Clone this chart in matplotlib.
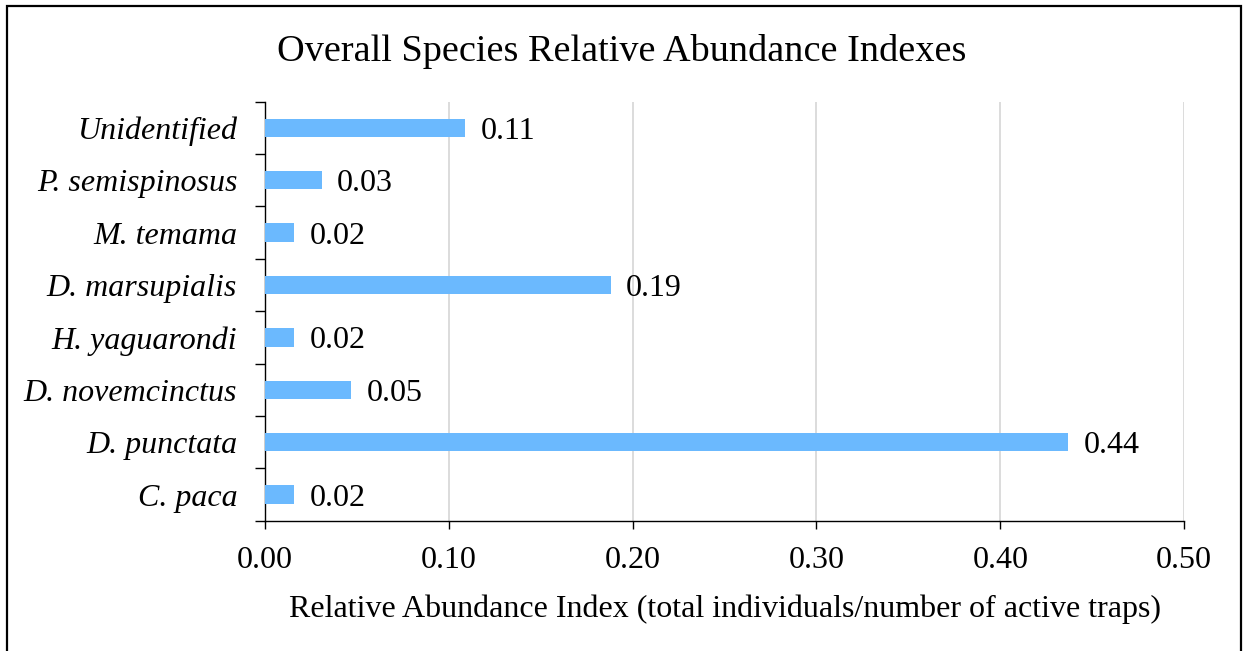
import numpy as np
import matplotlib
matplotlib.use("Agg")
import matplotlib.pyplot as plt
from matplotlib.patches import Rectangle

plt.rcParams["font.family"] = ["Liberation Serif", "DejaVu Serif"]

species = ["C. paca", "D. punctata", "D. novemcinctus", "H. yaguarondi",
           "D. marsupialis", "M. temama", "P. semispinosus", "Unidentified"]
abundance = [0.016, 0.437, 0.047, 0.016, 0.188, 0.016, 0.031, 0.109]
x_ticks = [0.0, 0.1, 0.2, 0.3, 0.4, 0.5]

fig = plt.figure(figsize=(12.44, 6.51), dpi=100)
ax = fig.add_axes([0.213, 0.2, 0.7389, 0.6438])

y = np.arange(len(species))
ax.barh(y, abundance, height=0.35, color="#6BB9FE", zorder=3)

for yi, v in zip(y, abundance):
    ax.annotate(f"{v:.2f}", (v, yi), xytext=(11, 0), textcoords="offset points",
                va="center_baseline", ha="left", fontsize=23)

ax.set_xlim(0, 0.5)
ax.set_ylim(-0.5, len(species) - 0.5)
ax.set_xticks(x_ticks)
ax.set_xticklabels([f"{t:.2f}" for t in x_ticks], fontsize=23)
ax.tick_params(axis="x", direction="out", length=6, width=1, pad=12)

# category boundaries carry the tick marks, names sit between them
ax.set_yticks(np.arange(-0.5, len(species), 1.0))
ax.set_yticklabels([])
ax.tick_params(axis="y", which="major", direction="out", length=7, width=1)
ax.set_yticks(y, minor=True)
ax.set_yticklabels(species, minor=True, fontsize=23, style="italic")
ax.tick_params(axis="y", which="minor", length=0, pad=20)

ax.grid(axis="x", color="#D9D9D9", linewidth=1.3, zorder=0)
for s in ["top", "right"]:
    ax.spines[s].set_visible(False)
for s in ["left", "bottom"]:
    ax.spines[s].set_color("black")
    ax.spines[s].set_linewidth(1)

ax.set_xlabel("Relative Abundance Index (total individuals/number of active traps)",
              fontsize=23, labelpad=14)
fig.suptitle("Overall Species Relative Abundance Indexes", fontsize=27.5, y=0.948)

fig.patches.append(Rectangle((6.5 / 1244, -0.05), 1234 / 1244, 1.05 - 5.5 / 651,
                             transform=fig.transFigure, fill=False,
                             edgecolor="black", linewidth=1.6))

fig.savefig("out.png", dpi=100, facecolor="white")
